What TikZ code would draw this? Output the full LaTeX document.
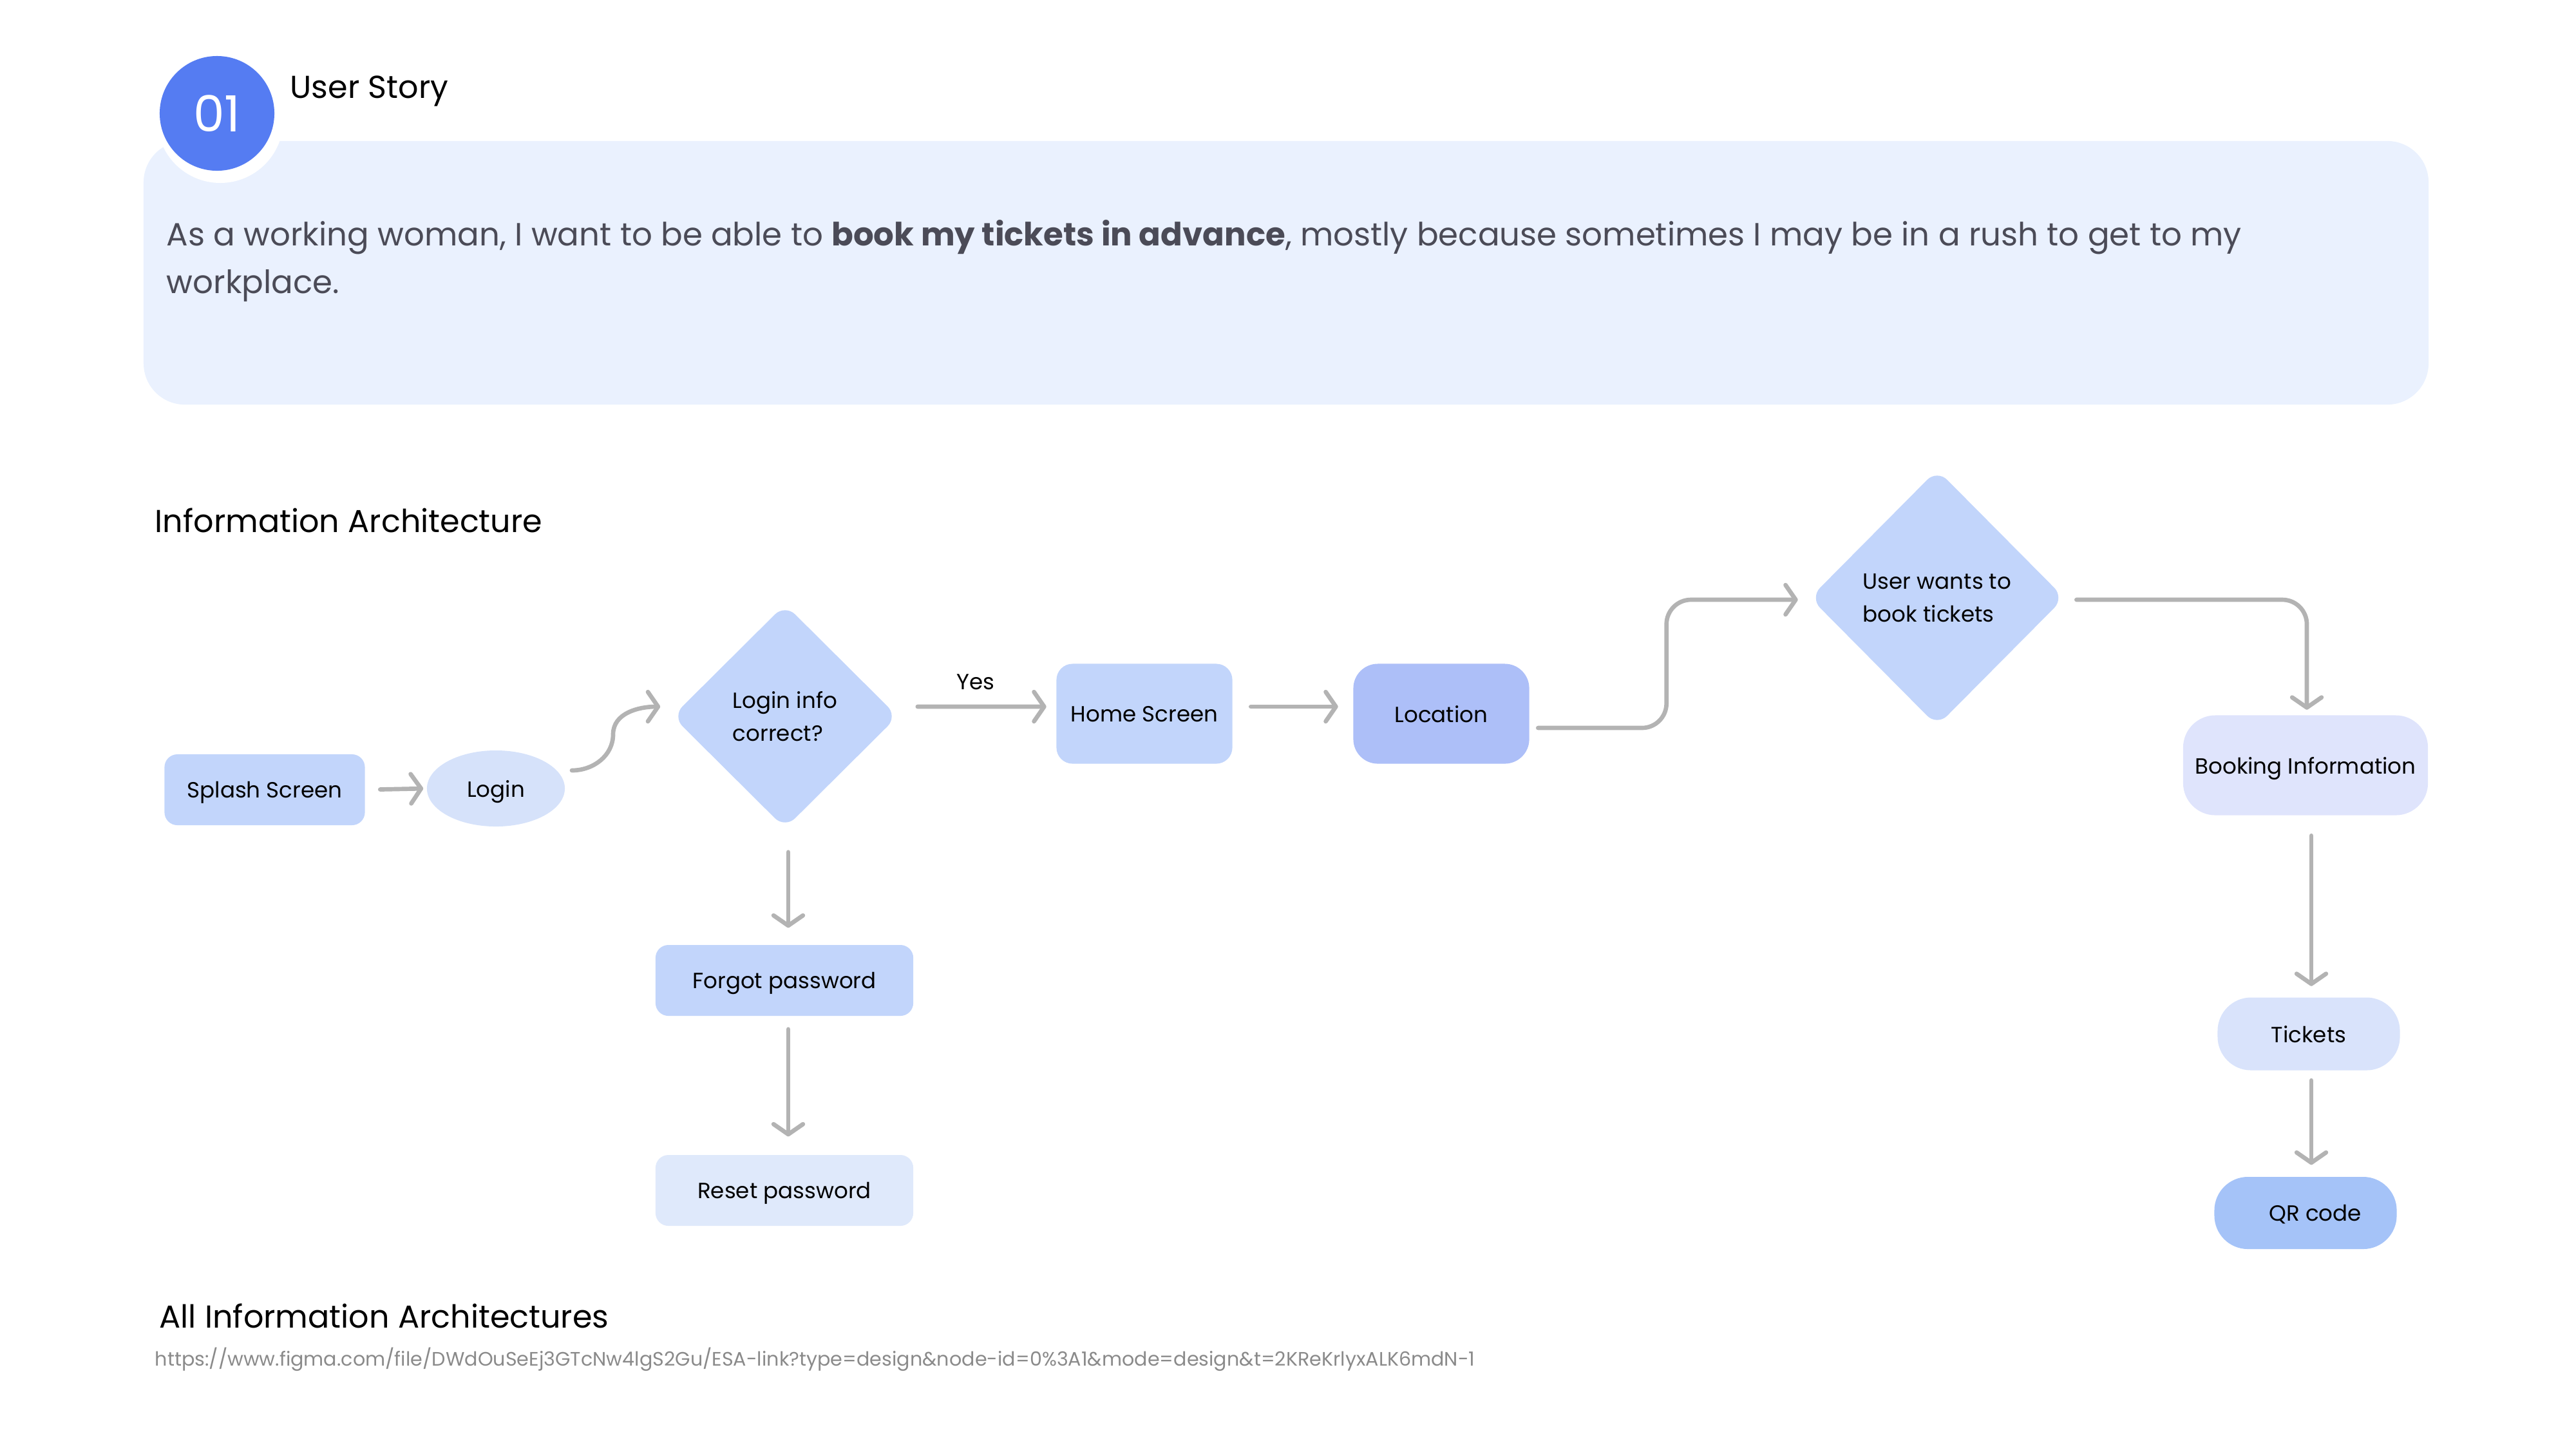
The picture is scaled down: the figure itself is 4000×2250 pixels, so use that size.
\documentclass[tikz,border=0pt]{standalone}
\usepackage{fontspec}
\setmainfont{Poppins}
\usetikzlibrary{arrows.meta,shapes.geometric,calc}
\definecolor{boxbg}{HTML}{EAF1FE}
\definecolor{circblue}{HTML}{557CF2}
\definecolor{cA}{HTML}{C2D5FB}
\definecolor{cLogin}{HTML}{D6E2FA}
\definecolor{cLoc}{HTML}{ADBFF8}
\definecolor{cBook}{HTML}{DFE4FC}
\definecolor{cTick}{HTML}{D9E3FB}
\definecolor{cQR}{HTML}{A5C3F8}
\definecolor{cReset}{HTML}{DFE9FB}
\definecolor{arrowgray}{HTML}{B3B3B3}
\definecolor{storytext}{HTML}{4B4B57}
\definecolor{urlgray}{HTML}{8A8A8A}
\tikzset{
  box/.style={fill=#1, text=black, font=\fontsize{9.7pt}{12pt}\selectfont, inner sep=0pt, text depth=0pt},
  dia/.style={diamond, fill=cA, text=black, align=left, inner sep=0pt,
     font=\fontsize{9.7pt}{14.5pt}\selectfont, rounded corners=0.22cm},
  arr/.style={draw=arrowgray, line width=1.9pt, line cap=round,
     -{Straight Barb[length=4.5pt,width=13pt,round]}},
  heading/.style={anchor=west, text=black, font=\fontsize{14pt}{16pt}\selectfont, inner sep=0pt}
}
\begin{document}
\begin{tikzpicture}[x=0.01cm,y=-0.01cm]
\useasboundingbox (0,0) rectangle (4000,2250);

% user story box
\node (storybox) [fill=boxbg, rounded corners=0.64cm, minimum width=35.46cm, minimum height=4.09cm, inner sep=0pt] at (1997,423.5) {};
\fill[white] (342,186) circle[radius=98];
\node (badge) [circle, fill=circblue, minimum size=1.78cm, inner sep=0pt, text=white, font=\fontsize{22pt}{24pt}\selectfont] at (337,176) {01};
\node (title) [heading] at (450,141) {User Story};
\node (story) [anchor=west, align=left, inner sep=0pt, text=storytext, font=\fontsize{14.17pt}{21pt}\selectfont] at (258,405)
  {As a working woman, I want to be able to \textbf{book my tickets in advance}, mostly because sometimes I may be in a rush to get to my\\workplace.};

\node (ia) [heading] at (240,808) {Information Architecture};

% flow
\node (splash) [box=cA, rounded corners=0.2cm, minimum width=3.11cm, minimum height=1.10cm] at (411,1226) {Splash Screen};
\node (login) [ellipse, box=cLogin, minimum width=2.14cm, minimum height=1.18cm] at (770,1224) {Login};
\node (d1) [dia, minimum width=3.5cm, minimum height=3.48cm] at (1219,1112) {Login info\\correct?};
\node (home) [box=cA, rounded corners=0.25cm, minimum width=2.73cm, minimum height=1.55cm] at (1777,1108) {Home Screen};
\node (loc) [box=cLoc, rounded corners=0.38cm, minimum width=2.73cm, minimum height=1.55cm] at (2238,1108) {Location};
\node (d2) [dia, minimum width=3.95cm, minimum height=3.98cm] at (3008,928) {User wants to\\book tickets};
\node (book) [box=cBook, rounded corners=0.5cm, minimum width=3.80cm, minimum height=1.55cm] at (3580,1188) {Booking Information};
\node (tick) [box=cTick, rounded corners=0.52cm, minimum width=2.83cm, minimum height=1.13cm] at (3585,1605) {Tickets};
\node (qr) [box=cQR, rounded corners=0.52cm, minimum width=2.83cm, minimum height=1.12cm] at (3580,1883) {\hspace{0.3cm}QR code};
\node (forgot) [box=cA, rounded corners=0.2cm, minimum width=4.00cm, minimum height=1.10cm] at (1218,1522) {Forgot password};
\node (reset) [box=cReset, rounded corners=0.2cm, minimum width=4.00cm, minimum height=1.10cm] at (1218,1848) {Reset password\hspace{0.16cm}};

\node (yes) [text=black, font=\fontsize{9.7pt}{12pt}\selectfont, inner sep=0pt] at (1515,1059) {Yes};

% connectors
\draw[arr, shorten <=0.23cm, shorten >=0.05cm] (splash.east) -- (login.west);
\draw[arr] ([shift={(118,-28)}]login.center) to[out=0,in=270] ([shift={(182,-84)}]login.center) to[out=90,in=180] ([shift={(-18,-15)}]d1.west);
\draw[arr, shorten <=0.30cm, shorten >=0.15cm] ([yshift=0.15cm]d1.east) -- ([yshift=0.11cm]home.west);
\draw[arr, shorten <=0.28cm, shorten >=0.23cm] ([yshift=0.11cm]home.east) -- ([yshift=0.11cm]loc.west);
\draw[arr, rounded corners=0.38cm] ([shift={(13,22)}]loc.east) -| ([shift={(-222,3)}]d2.west) -- ([shift={(-18,3)}]d2.west);
\draw[arr, rounded corners=0.38cm] ([shift={(18,3)}]d2.east) -| ([shift={(2,-8)}]book.north);
\draw[arr] ([shift={(9,31)}]book.south) -- ([shift={(4,-17)}]tick.north);
\draw[arr] ([shift={(4,15)}]tick.south) -- ([shift={(9,-18)}]qr.north);
\draw[arr] ([shift={(5,36)}]d1.south) -- ([shift={(6,-26)}]forgot.north);
\draw[arr] ([shift={(6,20)}]forgot.south) -- ([shift={(6,-28)}]reset.north);

% footer
\node (all) [heading] at (247,2043) {All Information Architectures};
\node (url) [anchor=west, inner sep=0pt, text=urlgray, font=\fontsize{8.59pt}{10pt}\selectfont] at (240,2110) {https://www.figma.com/file/DWdOuSeEj3GTcNw4lgS2Gu/ESA-link?type=design\&node-id=0\%3A1\&mode=design\&t=2KReKrlyxALK6mdN-1};
\end{tikzpicture}
\end{document}
